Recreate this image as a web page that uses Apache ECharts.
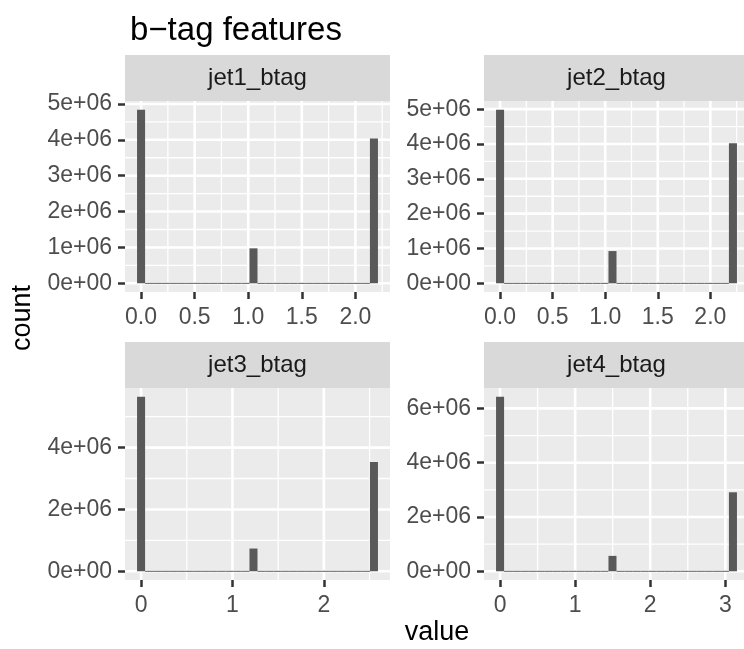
<!DOCTYPE html>
<html><head><meta charset="utf-8">
<script src="https://cdn.jsdelivr.net/npm/echarts@6/dist/echarts.min.js"></script>
<style>html,body{margin:0;padding:0;background:#fff}#c{width:744px;height:649px}</style>
</head><body><div id="c"></div>
<script>
// ---- data ----
const panelNames = ['jet1_btag', 'jet2_btag', 'jet3_btag', 'jet4_btag'];
const binMax = [2.173, 2.215, 2.548, 3.102];           // largest value of each feature (30 bins)
const jet1Counts = [4840000,0,0,0,0,0,0,0,0,0,0,0,0,0,975000,0,0,0,0,0,0,0,0,0,0,0,0,0,0,4040000];
const jet2Counts = [4985000,0,0,0,0,0,0,0,0,0,0,0,0,0,926000,0,0,0,0,0,0,0,0,0,0,0,0,0,0,4020000];
const jet3Counts = [5645000,0,0,0,0,0,0,0,0,0,0,0,0,0,735000,0,0,0,0,0,0,0,0,0,0,0,0,0,0,3530000];
const jet4Counts = [6430000,0,0,0,0,0,0,0,0,0,0,0,0,0,567000,0,0,0,0,0,0,0,0,0,0,0,0,0,0,2910000];
const allCounts = [jet1Counts, jet2Counts, jet3Counts, jet4Counts];
const xMajor = [[0,0.5,1,1.5,2],[0,0.5,1,1.5,2],[0,1,2],[0,1,2,3]];
const xMinor = [[0.25,0.75,1.25,1.75,2.25],[0.25,0.75,1.25,1.75,2.25],[0.5,1.5,2.5],[0.5,1.5,2.5]];
const xDecimals = [1, 1, 0, 0];
const yMajor = [[0,1e6,2e6,3e6,4e6,5e6],[0,1e6,2e6,3e6,4e6,5e6],[0,2e6,4e6],[0,2e6,4e6,6e6]];
const yMinor = [[5e5,1.5e6,2.5e6,3.5e6,4.5e6],[5e5,1.5e6,2.5e6,3.5e6,4.5e6],[1e6,3e6,5e6],[1e6,3e6,5e6]];
const titleText = 'b\u2212tag features';
const xTitle = 'value';
const yTitle = 'count';

// ---- layout / style ----
const FONT = '"Liberation Sans", Arial, Helvetica, sans-serif';
const panels = [
  {left:125, top:101, width:265, height:191, stripTop:55},
  {left:484, top:101, width:265, height:191, stripTop:55},
  {left:125, top:388, width:265, height:192, stripTop:342},
  {left:484, top:388, width:265, height:192, stripTop:342}
];
function sci(v) {
  if (v === 0) return '0e+00';
  const e = Math.floor(Math.log10(Math.abs(v)) + 1e-9);
  const m = Math.round(v / Math.pow(10, e));
  return m + 'e+' + String(e).padStart(2, '0');
}

const grid = [], xAxis = [], yAxis = [], series = [], graphic = [];
panels.forEach((p, i) => {
  const counts = allCounts[i];
  const w = binMax[i] / 29;
  const lo = -w / 2, hi = binMax[i] + w / 2, R = hi - lo;
  const cmax = Math.max.apply(null, counts);
  grid.push({left:p.left, top:p.top, width:p.width, height:p.height, show:true,
    backgroundColor:'#EBEBEB', borderWidth:0, containLabel:false, outerBoundsMode:'none'});
  xAxis.push({type:'value', gridIndex:i, position:'bottom', min: lo - 0.05 * R, max: hi + 0.05 * R,
    axisLine:{show:false, onZero:false}, splitLine:{show:false},
    axisTick:{show:true, customValues:xMajor[i], length:7, lineStyle:{color:'#333333', width:2.5}},
    axisLabel:{customValues:xMajor[i], formatter: v => Number(v).toFixed(xDecimals[i]),
      color:'#4D4D4D', fontSize:23, fontFamily:FONT, margin:14}});
  yAxis.push({type:'value', gridIndex:i, position:'left', min: -0.05 * cmax, max: 1.05 * cmax,
    axisLine:{show:false, onZero:false}, splitLine:{show:false},
    axisTick:{show:true, customValues:yMajor[i], length:7, lineStyle:{color:'#333333', width:2.5}},
    axisLabel:{customValues:yMajor[i], formatter: v => sci(Number(v)),
      color:'#4D4D4D', fontSize:23, fontFamily:FONT, margin:13}});
  const gridItems = [];
  xMinor[i].forEach(v => gridItems.push([1, v]));
  yMinor[i].forEach(v => gridItems.push([3, v]));
  xMajor[i].forEach(v => gridItems.push([0, v]));
  yMajor[i].forEach(v => gridItems.push([2, v]));
  series.push({type:'custom', xAxisIndex:i, yAxisIndex:i, z:1, silent:true, data:gridItems,
    renderItem: (params, api) => {
      const kind = api.value(0), v = api.value(1);
      const cs = params.coordSys;
      const lw = (kind === 0 || kind === 2) ? 2.6 : 1.3;
      if (kind < 2) {
        const x = api.coord([v, 0])[0];
        return {type:'line', shape:{x1:x, y1:cs.y, x2:x, y2:cs.y + cs.height}, style:{stroke:'#FFFFFF', lineWidth:lw}};
      }
      const y = api.coord([0, v])[1];
      return {type:'line', shape:{x1:cs.x, y1:y, x2:cs.x + cs.width, y2:y}, style:{stroke:'#FFFFFF', lineWidth:lw}};
    }});
  series.push({type:'custom', xAxisIndex:i, yAxisIndex:i, z:2, silent:true,
    data: counts.map((n, k) => [k * w, n]),
    renderItem: (params, api) => {
      const c = api.value(0), n = api.value(1);
      const a = api.coord([c - w / 2, n]), b = api.coord([c + w / 2, 0]);
      let y = a[1], h = b[1] - a[1];
      if (h < 1) { y = b[1] - 0.5; h = 1; }
      return {type:'rect', shape:{x:a[0], y:y, width:b[0] - a[0], height:h}, style:{fill:'#595959'}};
    }});
  graphic.push({type:'rect', shape:{x:p.left, y:p.stripTop, width:p.width, height:p.top - p.stripTop},
    style:{fill:'#D9D9D9'}, silent:true});
  graphic.push({type:'text', x:p.left + p.width / 2, y:(p.stripTop + p.top) / 2,
    style:{text:panelNames[i], font:'24px ' + FONT, fill:'#1A1A1A', textAlign:'center', textVerticalAlign:'middle'}});
});
graphic.push({type:'text', x:23, y:318, rotation:Math.PI / 2,
  style:{text:yTitle, font:'27px ' + FONT, fill:'#000', textAlign:'center', textVerticalAlign:'middle'}});
graphic.push({type:'text', x:437, y:633,
  style:{text:xTitle, font:'27px ' + FONT, fill:'#000', textAlign:'center', textVerticalAlign:'middle'}});

const chart = echarts.init(document.getElementById('c'), null, {renderer:'canvas'});
chart.setOption({
  animation:false,
  backgroundColor:'#FFFFFF',
  title:{text:titleText, left:125, top:9, textStyle:{fontSize:33, fontWeight:'normal', color:'#000', fontFamily:FONT}},
  grid, xAxis, yAxis, series, graphic
});
</script></body></html>
